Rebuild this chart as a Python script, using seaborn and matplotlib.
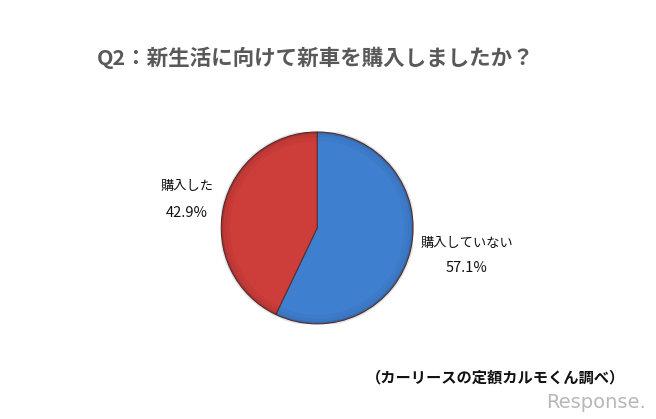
import numpy as np
import seaborn as sns
import matplotlib.pyplot as plt

title = 'Q2：新生活に向けて新車を購入しましたか？'
categories = ['購入していない', '購入した']
shares = [57.1, 42.9]
source = '（カーリースの定額カルモくん調べ）'

sns.set_theme(style='white')
plt.rcParams['font.family'] = ['Noto Sans CJK JP', 'DejaVu Sans']

colors = ['#3f7fd0', '#cd3d3a']

fig = plt.figure(figsize=(6.56, 4.19), dpi=100)
fig.patch.set_facecolor('white')
ax = fig.add_axes([0.337, 0.227, 0.293, 0.458])

wedges, _ = ax.pie(shares, colors=colors, startangle=90, counterclock=False,
                   wedgeprops=dict(linewidth=0.8, edgecolor='#5a3030'))
ax.set_xlim(-1, 1)
ax.set_ylim(-1, 1)
ax.set_aspect('equal')

# soft shading toward the rim
for r, a in [(1.0, 0.10), (0.97, 0.06), (0.93, 0.03)]:
    ring = plt.Circle((0, 0), r, fill=False, lw=3, ec='black', alpha=a)
    ax.add_patch(ring)

label_pos = [(1.56, -0.16, -0.42), (-1.36, 0.43, 0.16)]
for cat, val, (x, y1, y2) in zip(categories, shares, label_pos):
    ax.text(x, y1, cat, ha='center', va='center', fontsize=9.5, color='#111111', clip_on=False)
    ax.text(x, y2, f'{val:.1f}%', ha='center', va='center', fontsize=10.5, color='#111111', clip_on=False)

fig.text(0.481, 0.862, title, ha='center', va='center', fontsize=15.5,
         fontweight='bold', color='#595959')
fig.text(0.953, 0.098, source, ha='right', va='center', fontsize=11,
         fontweight='bold', color='#111111')
fig.text(0.985, 0.04, 'Response.', ha='right', va='center', fontsize=14,
         color='#b8b8b8', family='DejaVu Sans')

fig.savefig('out.png', dpi=100, facecolor='white')
